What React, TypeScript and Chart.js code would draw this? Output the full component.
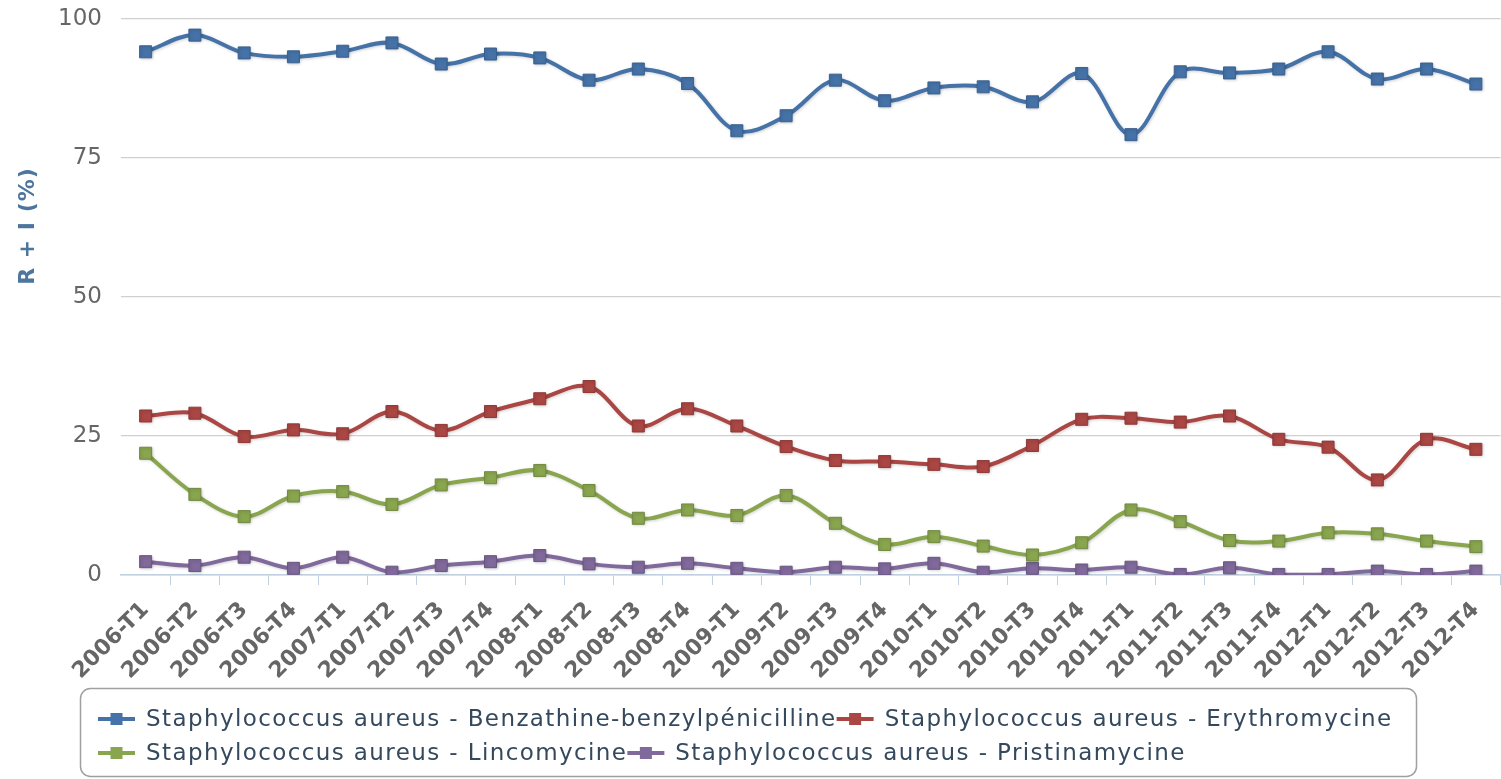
import React, { useEffect, useRef } from 'react';
import { Chart, registerables } from 'chart.js';

Chart.register(...registerables);

const categories = [
  '2006-T1', '2006-T2', '2006-T3', '2006-T4',
  '2007-T1', '2007-T2', '2007-T3', '2007-T4',
  '2008-T1', '2008-T2', '2008-T3', '2008-T4',
  '2009-T1', '2009-T2', '2009-T3', '2009-T4',
  '2010-T1', '2010-T2', '2010-T3', '2010-T4',
  '2011-T1', '2011-T2', '2011-T3', '2011-T4',
  '2012-T1', '2012-T2', '2012-T3', '2012-T4',
];

const benzathine = [94.1, 97.1, 93.9, 93.2, 94.2, 95.7, 91.9, 93.7, 93.0, 89.0, 91.0, 88.4, 79.9, 82.6, 89.0, 85.3, 87.6, 87.8, 85.1, 90.2, 79.2, 90.5, 90.3, 91.0, 94.1, 89.2, 91.0, 88.3];
const erythromycine = [28.6, 29.1, 24.9, 26.1, 25.4, 29.4, 26.0, 29.4, 31.7, 33.9, 26.8, 29.9, 26.8, 23.1, 20.6, 20.4, 19.9, 19.5, 23.3, 28.0, 28.2, 27.5, 28.6, 24.4, 23.0, 17.1, 24.4, 22.6];
const lincomycine = [21.9, 14.5, 10.5, 14.2, 15.0, 12.7, 16.2, 17.5, 18.8, 15.2, 10.2, 11.7, 10.7, 14.3, 9.3, 5.5, 6.9, 5.2, 3.6, 5.8, 11.7, 9.6, 6.2, 6.1, 7.6, 7.4, 6.1, 5.1];
const pristinamycine = [2.4, 1.7, 3.2, 1.2, 3.2, 0.5, 1.7, 2.4, 3.5, 2.0, 1.4, 2.1, 1.2, 0.5, 1.4, 1.1, 2.1, 0.5, 1.2, 0.9, 1.4, 0.1, 1.3, 0.1, 0.1, 0.7, 0.1, 0.7];

const seriesNames = [
  'Staphylococcus aureus - Benzathine-benzylpénicilline',
  'Staphylococcus aureus - Erythromycine',
  'Staphylococcus aureus - Lincomycine',
  'Staphylococcus aureus - Pristinamycine',
];
const seriesColors = ['#4572A7', '#AA4643', '#89A54E', '#80699B'];
const seriesBorders = ['#3A6190', '#8E3A38', '#728A41', '#6A5782'];
const yTicks = [0, 25, 50, 75, 100];
const yTitle = 'R + I (%)';

const FONT = '"DejaVu Sans", "Open Sans", sans-serif';

const shadowPlugin = {
  id: 'hcShadow',
  beforeDatasetDraw(chart: any) {
    const ctx = chart.ctx;
    ctx.save();
    ctx.shadowColor = 'rgba(0,0,0,0.18)';
    ctx.shadowBlur = 3;
    ctx.shadowOffsetX = 1;
    ctx.shadowOffsetY = 1;
  },
  afterDatasetDraw(chart: any) {
    chart.ctx.restore();
  },
};

const decorPlugin = {
  id: 'hcDecor',
  afterDraw(chart: any) {
    const ctx = chart.ctx as CanvasRenderingContext2D;
    // Y axis title
    ctx.save();
    ctx.translate(28, 226);
    ctx.rotate(-Math.PI / 2);
    ctx.font = `bold 22px ${FONT}`;
    (ctx as any).letterSpacing = '1px';
    ctx.fillStyle = '#4D759E';
    ctx.textAlign = 'center';
    ctx.textBaseline = 'middle';
    ctx.fillText(yTitle, 0, 0);
    ctx.restore();

    // Legend box
    const boxX = 80.5, boxY = 688.5, boxW = 1336, boxH = 88;
    ctx.save();
    ctx.beginPath();
    (ctx as any).roundRect(boxX, boxY, boxW, boxH, 10);
    ctx.strokeStyle = '#A0A0A0';
    ctx.lineWidth = 1.5;
    ctx.stroke();

    ctx.font = `23px ${FONT}`;
    (ctx as any).letterSpacing = '1.4px';
    ctx.textBaseline = 'middle';
    ctx.textAlign = 'left';
    const startX = 98;
    const rowYs = [719, 753];
    let row = 0;
    let x = startX;
    const symW = 37;
    const symGap = 11;
    chart.data.datasets.forEach((ds: any) => {
      const tw = ctx.measureText(ds.label).width;
      const itemW = symW + symGap + tw;
      if (x + itemW > boxX + boxW - 10 && x > startX) {
        row += 1;
        x = startX;
      }
      const y = rowYs[row] ?? rowYs[rowYs.length - 1] + 34 * (row - 1);
      ctx.strokeStyle = ds.borderColor;
      ctx.lineWidth = 4;
      ctx.beginPath();
      ctx.moveTo(x, y);
      ctx.lineTo(x + symW, y);
      ctx.stroke();
      ctx.fillStyle = ds.pointBackgroundColor;
      ctx.fillRect(x + symW / 2 - 6, y - 6, 12, 12);
      ctx.fillStyle = '#34495E';
      ctx.fillText(ds.label, x + symW + symGap, y + 1);
      x += itemW;
    });
    ctx.restore();
  },
};

export default function App() {
  const canvasRef = useRef<HTMLCanvasElement | null>(null);

  useEffect(() => {
    const canvas = canvasRef.current;
    if (!canvas) return;
    const seriesData = [benzathine, erythromycine, lincomycine, pristinamycine];
    const chart = new Chart(canvas, {
      type: 'line',
      data: {
        labels: categories,
        datasets: seriesData.map((d, i) => ({
          label: seriesNames[i],
          data: d,
          borderColor: seriesColors[i],
          backgroundColor: seriesColors[i],
          pointBackgroundColor: seriesColors[i],
          pointBorderColor: seriesBorders[i],
          pointBorderWidth: 1,
          pointStyle: 'rect',
          pointRadius: 8.5,
          borderWidth: 4,
          tension: 0.35,
          fill: false,
        })),
      },
      options: {
        animation: false,
        responsive: false,
        maintainAspectRatio: false,
        layout: { padding: { left: 0, right: 0, top: 19, bottom: 0 } },
        plugins: {
          legend: { display: false },
          tooltip: { enabled: false },
        },
        scales: {
          x: {
            offset: true,
            grid: {
              offset: true,
              drawOnChartArea: false,
              drawTicks: true,
              tickLength: 10,
              lineWidth: 1,
              color: (c: any) => (c.index === 0 ? 'rgba(0,0,0,0)' : '#C0D0E0'),
            },
            border: { display: true, color: '#C0D0E0', width: 1.5 },
            ticks: {
              autoSkip: false,
              minRotation: 45,
              maxRotation: 45,
              padding: 12,
              color: '#666666',
              font: { family: FONT, size: 22, weight: 'bold' },
            },
            afterFit: (s: any) => {
              s.height = 204;
              s.paddingLeft = 0;
              s.paddingRight = 0;
            },
          },
          y: {
            min: 0,
            max: 100,
            afterBuildTicks: (s: any) => {
              s.ticks = yTicks.map((v) => ({ value: v }));
            },
            ticks: {
              stepSize: 25,
              padding: 19,
              color: '#666666',
              font: { family: FONT, size: 23 },
            },
            grid: { color: '#D0D0D0', drawTicks: false, lineWidth: 1.2 },
            border: { display: false },
            afterFit: (s: any) => {
              s.width = 121;
              s.paddingTop = 0;
              s.paddingBottom = 0;
            },
          },
        },
      },
      plugins: [shadowPlugin, decorPlugin],
    } as any);
    return () => chart.destroy();
  }, []);

  return (
    <div style={{ position: 'absolute', left: 0, top: 0, width: 1501, height: 779, overflow: 'hidden', background: '#fff' }}>
      <canvas ref={canvasRef} width={1510} height={779} style={{ display: 'block' }} />
    </div>
  );
}
